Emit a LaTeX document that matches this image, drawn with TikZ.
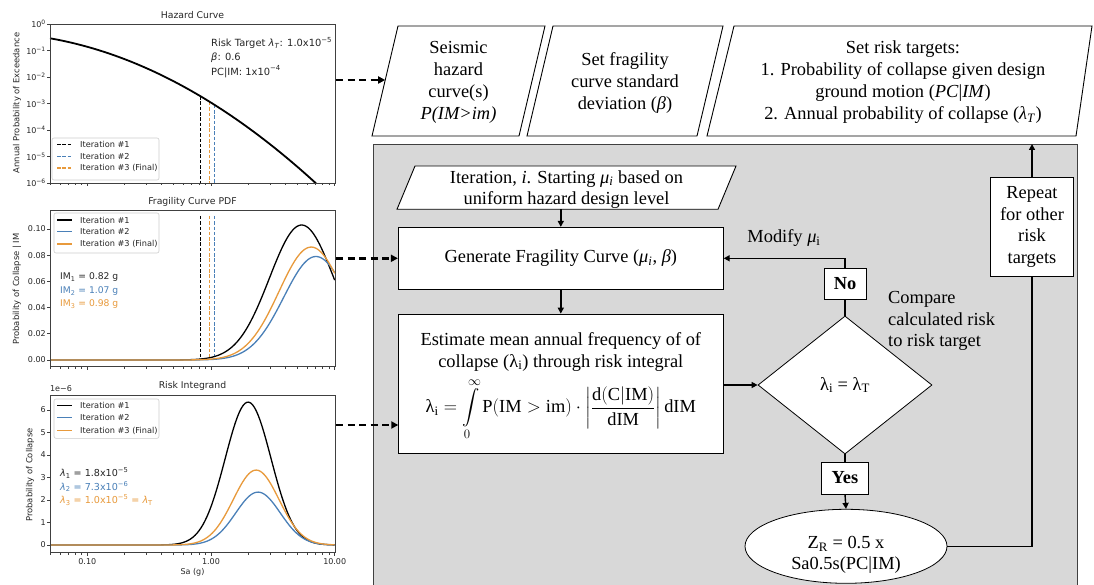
\RequirePackage{fix-cm}
\documentclass[tikz,border=0pt]{standalone}
\usepackage{amsmath}
\usepackage{fontspec}
\setmainfont{Liberation Serif}
\newfontfamily\plotfont{DejaVu Sans}
\usetikzlibrary{arrows.meta,shapes.geometric,calc}
\definecolor{cblue}{HTML}{4A80B8}
\definecolor{corange}{HTML}{E89A3C}
\definecolor{boxgray}{HTML}{D8D8D8}
\definecolor{axgray}{HTML}{404040}
\newcommand{\fcfont}{\fontsize{18.4}{21.4}\selectfont}
\newcommand{\topfont}{\fontsize{18.4}{22}\selectfont}
\newcommand{\sbi}[1]{\textsubscript{#1}}
\newcommand{\spi}[1]{\textsuperscript{#1}}
\begin{document}
\begin{tikzpicture}[x=1pt,y=-1pt,
  declare function={
    gz(\zz)=exp(-0.5*\zz*\zz);
    fragv(\uu,\mm)=0.0845/\mm*gz((2.3026*(\uu-log10(\mm))-1.886)/0.6);
    riskv(\uu,\pk,\ck,\sk)=\pk*gz((\uu-\ck)/\sk);
    haz(\xx)=38.3+0.176*(\xx-50)+0.001384*(\xx-50)*(\xx-50);
    ux(\uu)=211+123.7*\uu;
  },
  fc/.style={font=\fcfont, align=center, inner sep=0pt},
  tp/.style={font=\topfont, align=center, inner sep=0pt},
  boxs/.style={draw=black, line width=0.8pt, fill=white, inner sep=0pt, font=\fcfont, align=center},
  para/.style={draw=black, line width=0.9pt, fill=white},
  conn/.style={line width=1.4pt, -{Triangle[length=6pt,width=6pt]}},
  ln/.style={line width=1.4pt},
  dconn/.style={line width=2.6pt, dash pattern=on 7pt off 4.5pt, -{Triangle[length=7pt,width=7pt]}},
  pt/.style={font=\plotfont\fontsize{8}{9}\selectfont, inner sep=0pt, text=black!85},
  ptitle/.style={font=\plotfont\fontsize{9.3}{10}\selectfont, inner sep=0pt, text=black!85},
  plab/.style={font=\plotfont\fontsize{8.4}{10}\selectfont, inner sep=0pt, rotate=90, text=black!85},
  pleg/.style={font=\plotfont\fontsize{8.2}{9}\selectfont, inner sep=0pt, anchor=west, text=black!85},
  pann/.style={font=\plotfont\fontsize{9.2}{11}\selectfont, inner sep=0pt, anchor=west},
  hann/.style={font=\plotfont\fontsize{9.9}{12}\selectfont, inner sep=0pt, anchor=west, text=black!85},
  axis/.style={draw=axgray, line width=0.7pt},
  legbox/.style={draw=black!20, line width=0.6pt, rounded corners=2pt, fill=white, fill opacity=0.8},
  kc/.style={line width=1.3pt, black},
  bc/.style={line width=1.3pt, cblue},
  oc/.style={line width=1.3pt, corange},
  vd/.style={line width=1.1pt, dash pattern=on 3.5pt off 1.8pt},
]
\useasboundingbox (0,0) rectangle (1094,585);
\fill[white] (0,0) rectangle (1094,585);

\newcommand{\xticks}[1]{%
  \foreach \e in {-1,0,1} \draw[axis] ({ux(\e)},#1) -- ++(0,3.5);
  \foreach \k in {5,...,9} \draw[axis] ({ux(log10(\k)-2)},#1) -- ++(0,2);
  \foreach \k in {2,...,9} {\draw[axis] ({ux(log10(\k)-1)},#1) -- ++(0,2);
    \draw[axis] ({ux(log10(\k))},#1) -- ++(0,2);}
}

% ---------- Plot 1: hazard curve ----------
\node[ptitle] (t1) at (192.5,15) {Hazard Curve};
\draw[vd, black] (200.3,{haz(200.3)}) -- (200.3,183);
\draw[vd, corange] (209.9,{haz(209.9)}) -- (209.9,183);
\draw[vd, cblue] (214.6,{haz(214.6)}) -- (214.6,183);
\draw[line width=1.8pt, black] plot[domain=50:316, samples=80] (\x,{haz(\x)});
\draw[axis] (50,24) rectangle (335,183);
\foreach \k in {0,...,6} {
  \draw[axis] (47,{24+26.5*\k}) -- (50,{24+26.5*\k});
  \node[pt, anchor=east] (ya\k) at (46,{24+26.5*\k}) {10\spi{\ifnum\k=0 0\else −\k\fi}};
}
\xticks{183}
\node[plab] (l1) at (17,103) {Annual Probability of Exceedance};
\draw[legbox] (52,138) rectangle (159,180);
\draw[vd, black] (57,144.5) -- (72,144.5);
\draw[vd, cblue] (57,156.3) -- (72,156.3);
\draw[vd, corange] (57,168) -- (72,168);
\node[pleg] (g11) at (80,144.5) {Iteration \#1};
\node[pleg] (g12) at (80,156.3) {Iteration \#2};
\node[pleg] (g13) at (80,168) {Iteration \#3 (Final)};
\node[hann] (a11) at (211,43) {Risk Target \textit{λ}\sbi{\textit{T}}: 1.0x10\spi{−5}};
\node[hann] (a12) at (211,57.7) {\textit{β}: 0.6};
\node[hann] (a13) at (211,71.7) {PC|IM: 1x10\spi{−4}};

% ---------- Plot 2: fragility PDF ----------
\node[ptitle] (t2) at (192.5,202) {Fragility Curve PDF};
\draw[vd, black] (200.3,216) -- (200.3,360);
\draw[vd, corange] (209.9,216) -- (209.9,360);
\draw[vd, cblue] (214.6,216) -- (214.6,360);
\draw[kc] plot[domain=-1.301:1, samples=150] ({ux(\x)},{360-1310*fragv(\x,0.82)});
\draw[bc] plot[domain=-1.301:1, samples=150] ({ux(\x)},{360-1310*fragv(\x,1.07)});
\draw[oc] plot[domain=-1.301:1, samples=150] ({ux(\x)},{360-1310*fragv(\x,0.98)});
\draw[axis] (50,210) rectangle (335,366.7);
\foreach \k/\lab in {0/0.00,1/0.02,2/0.04,3/0.06,4/0.08,5/0.10} {
  \draw[axis] (47,{360-26.2*\k}) -- (50,{360-26.2*\k});
  \node[pt, anchor=east] (yb\k) at (46,{360-26.2*\k}) {\lab};
}
\xticks{366.7}
\node[plab] (l2) at (17,289) {Probability of Collapse | IM};
\draw[legbox] (54,213) rectangle (159,253);
\draw[kc] (57,220) -- (72,220);
\draw[bc] (57,231.7) -- (72,231.7);
\draw[oc] (57,244) -- (72,244);
\node[pleg] (g21) at (80,220) {Iteration \#1};
\node[pleg] (g22) at (80,231.7) {Iteration \#2};
\node[pleg] (g23) at (80,244) {Iteration \#3 (Final)};
\node[pann, text=black!85] (a21) at (60,277.3) {IM\sbi{1} = 0.82 g};
\node[pann, text=cblue] (a22) at (60,291.3) {IM\sbi{2} = 1.07 g};
\node[pann, text=corange] (a23) at (60,304) {IM\sbi{3} = 0.98 g};

% ---------- Plot 3: risk integrand ----------
\node[ptitle] (t3) at (192.5,386) {Risk Integrand};
\node[pt] (e3) at (61,389) {1e−6};
\draw[kc] plot[domain=-1.301:1, samples=150] ({ux(\x)},{545-22.5*riskv(\x,6.35,0.30,0.185)});
\draw[bc] plot[domain=-1.301:1, samples=150] ({ux(\x)},{545-22.5*riskv(\x,2.35,0.38,0.18)});
\draw[oc] plot[domain=-1.301:1, samples=150] ({ux(\x)},{545-22.5*riskv(\x,3.33,0.365,0.185)});
\draw[axis] (50,395) rectangle (335,552.7);
\foreach \k in {0,...,6} {
  \draw[axis] (47,{545-22.5*\k}) -- (50,{545-22.5*\k});
  \node[pt, anchor=east] (yc\k) at (46,{545-22.5*\k}) {\k};
}
\xticks{552.7}
\node[pt] (x31) at ({ux(-1)},561.7) {0.10};
\node[pt] (x32) at ({ux(0)},561.7) {1.00};
\node[pt] (x33) at ({ux(1)},561.7) {10.00};
\node[pt] (xl3) at (192.5,572) {Sa (g)};
\node[plab] (l3) at (30,475) {Probability of Collapse};
\draw[legbox] (54,399) rectangle (159,438.3);
\draw[kc] (57,405.7) -- (72,405.7);
\draw[bc] (57,417.7) -- (72,417.7);
\draw[oc] (57,430.7) -- (72,430.7);
\node[pleg] (g31) at (80,405.7) {Iteration \#1};
\node[pleg] (g32) at (80,417.7) {Iteration \#2};
\node[pleg] (g33) at (80,430.7) {Iteration \#3 (Final)};
\node[pann, text=black!85, font=\plotfont\fontsize{9.6}{11}\selectfont] (a31) at (60,473.3) {\textit{λ}\sbi{1} = 1.8x10\spi{−5}};
\node[pann, text=cblue, font=\plotfont\fontsize{9.6}{11}\selectfont] (a32) at (60,486.5) {\textit{λ}\sbi{2} = 7.3x10\spi{−6}};
\node[pann, text=corange, font=\plotfont\fontsize{9.6}{11}\selectfont] (a33) at (60,500) {\textit{λ}\sbi{3} = 1.0x10\spi{−5} = \textit{λ}\sbi{T}};

% ---------- Top input parallelograms ----------
\coordinate (p1a) at (398,26); \coordinate (p1b) at (545,26);
\coordinate (p1c) at (519,136); \coordinate (p1d) at (372,136);
\draw[para] (p1a) -- (p1b) -- (p1c) -- (p1d) -- cycle;
\node[tp] (p1t) at (458.5,82) {Seismic\\hazard\\curve(s)\\\textit{P(IM>im)}};
\coordinate (p1w) at (385.2,80);

\coordinate (p2a) at (553,26); \coordinate (p2b) at (723,26);
\coordinate (p2c) at (697,136); \coordinate (p2d) at (527,136);
\draw[para] (p2a) -- (p2b) -- (p2c) -- (p2d) -- cycle;
\node[tp] (p2t) at (625,83) {Set fragility\\curve standard\\deviation (\textit{β})};

\coordinate (p3a) at (734,26); \coordinate (p3b) at (1092,26);
\coordinate (p3c) at (1076,136); \coordinate (p3d) at (707,136);
\draw[para] (p3a) -- (p3b) -- (p3c) -- (p3d) -- cycle;
\node[tp] (p3t) at (903,82) {Set risk targets:\\1. Probability of collapse given design\\ground motion (\textit{PC}|\textit{IM})\\2. Annual probability of collapse (\textit{λ}\sbi{\textit{T}})};

% ---------- Gray process area ----------
\node[draw=axgray, line width=1.2pt, fill=boxgray, anchor=north west, minimum width=704.3pt, minimum height=450pt, inner sep=0pt] (bg) at (372.7,144) {};

\coordinate (ia) at (415,166); \coordinate (ib) at (736,166);
\coordinate (ic) at (718,209.3); \coordinate (id) at (397,209.3);
\draw[para] (ia) -- (ib) -- (ic) -- (id) -- cycle;
\node[fc] (itt) at (566.5,189.5) {Iteration, \textit{i}. Starting \textit{μ}\sbi{\textit{i}} based on\\uniform hazard design level};
\coordinate (itb) at (560.8,209.3);

\node[boxs, minimum width=325pt, minimum height=62pt] (gen) at (560.8,258.3) {Generate Fragility Curve (\textit{μ}\sbi{\textit{i}}, \textit{β})};
\node[boxs, minimum width=325pt, minimum height=139.3pt] (est) at (560.8,383.7) {};
\node[fc] (estt) at (560.8,352) {Estimate mean annual frequency of of\\collapse (λ\sbi{i}) through risk integral};
\node[fc] (estf) at (560.8,409) {$\text{λ}_{\mathrm{i}} = \displaystyle\int\limits_{0}^{\infty} \mathrm{P(IM > im)} \cdot \left|\frac{\mathrm{d(C|IM)}}{\mathrm{dIM}}\right| \mathrm{dIM}$};
\coordinate (estin) at (398.3,425);

\node[diamond, draw=black, line width=0.8pt, fill=white, minimum width=174pt, minimum height=138pt, inner sep=0pt, font=\fcfont] (dia) at (845,385) {λ\sbi{i} = λ\sbi{T}};
\node[boxs, minimum width=42pt, minimum height=31pt] (no) at (845,283.7) {\textbf{No}};
\node[boxs, minimum width=47pt, minimum height=32pt] (yes) at (845,478) {\textbf{Yes}};
\node[ellipse, draw=black, line width=0.8pt, fill=white, minimum width=202pt, minimum height=74pt, inner sep=0pt] (ell) at (846,546.3) {};
\node[fc] (ellt) at (846,555) {Z\sbi{R} = 0.5 x\\Sa0.5s(PC|IM)};
\node[boxs, minimum width=83pt, minimum height=99.4pt] (rep) at (1032,227) {Repeat\\for other\\risk\\targets};

\node[fc] (mod) at (784,238.3) {Modify \textit{μ}\sbi{i}};
\node[fc, anchor=west, align=left] (cmp) at (888,321) {Compare\\calculated risk\\to risk target};

% ---------- Connectors ----------
\draw[conn] (itb) -- (gen.north);
\draw[conn] (gen.south) -- (est.north);
\draw[conn] (est.east |- dia.west) -- (dia.west);
\draw[ln] (dia.north) -- (no.south);
\draw[conn] (no.north) |- (gen.east);
\draw[ln] (dia.south) -- (yes.north);
\draw[conn] (yes.south) -- (ell.north);
\draw[ln] (ell.east) -| (rep.south);
\draw[conn] (rep.north) -- (rep.north |- bg.north);

% dashed links from plots
\coordinate (h1) at (336,80);
\coordinate (h2) at (336,258.3);
\coordinate (h3) at (336,425);
\draw[dconn] (h1) -- (p1w);
\draw[dconn] (h2) -- (gen.west);
\draw[dconn] (h3) -- (estin);
\end{tikzpicture}
\end{document}
